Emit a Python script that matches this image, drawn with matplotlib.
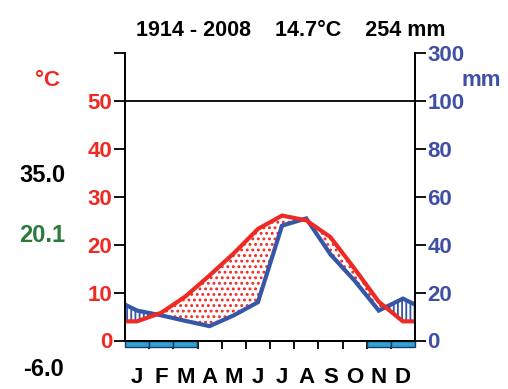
import numpy as np
import matplotlib
matplotlib.use('Agg')
import matplotlib.pyplot as plt

plt.rcParams['font.family'] = ['Liberation Sans', 'DejaVu Sans']
plt.rcParams['font.weight'] = 'bold'
plt.rcParams['hatch.linewidth'] = 1.3

# climate data
months = ['J', 'F', 'M', 'A', 'M', 'J', 'J', 'A', 'S', 'O', 'N', 'D']
temp = [4.0, 5.8, 9.2, 13.6, 18.2, 23.3, 26.1, 25.1, 21.6, 15.0, 8.1, 4.0]
precip = [12.5, 10.5, 8.2, 6.0, 10.5, 16.0, 48.0, 51.0, 36.0, 25.0, 12.5, 17.5]
frost_months = [0, 1, 2, 10, 11]

period = '1914 - 2008'
mean_temp = '14.7°C'
total_precip = '254 mm'
abs_max = '35.0'
max_warm = '20.1'
abs_min = '-6.0'

mm_ticks = [0, 20, 40, 60, 80, 100, 300]
c_ticks = [0, 10, 20, 30, 40, 50]

RED = '#ee2a24'
BLUE = '#3656a8'
LBLUE = '#3f4fa6'
FROST = '#2ea3d6'
GREEN = '#2a7a3c'

W, H = 508, 389


def mm_to_scale(v):
    v = np.asarray(v, dtype=float)
    return np.where(v <= 100, v / 2, 50 + (v - 100) / 20)


def main():
    fig = plt.figure(figsize=(W / 100, H / 100), dpi=100)
    fig.patch.set_facecolor('white')
    ax = fig.add_axes([125 / W, 48.5 / H, 290 / W, 287.2 / H])

    # month midpoints, closed with Dec/Jan average at both edges
    x = np.concatenate([[0], np.arange(12) + 0.5, [12]])
    t_edge = (temp[0] + temp[-1]) / 2
    p_edge = (precip[0] + precip[-1]) / 2
    t = np.concatenate([[t_edge], temp, [t_edge]])
    p = mm_to_scale(np.concatenate([[p_edge], precip, [p_edge]]))

    # arid and humid periods
    ax.fill_between(x, t, p, where=t >= p, interpolate=True, facecolor='none',
                    edgecolor=RED, hatch='...', linewidth=0)
    ax.fill_between(x, t, p, where=p >= t, interpolate=True, facecolor='none',
                    edgecolor=BLUE, hatch='||||', linewidth=0)

    ax.plot(x, p, color=BLUE, lw=3, solid_joinstyle='miter')
    ax.plot(x, t, color=RED, lw=3, solid_joinstyle='miter')
    ax.axhline(50, color='black', lw=1.3)

    # frost months bars below the axis
    ax.bar(np.array(frost_months) + 0.5, -1.35, width=1, bottom=0,
           color=FROST, edgecolor='#1c3a5a', linewidth=1, clip_on=False, zorder=3)

    ax.set_xlim(0, 12)
    ax.set_ylim(0, 60)
    ax.set_xticks(range(1, 12))
    ax.set_xticklabels([])
    ax.tick_params(axis='x', direction='out', length=6, width=1.3)

    ax.set_yticks(c_ticks + [60])
    ax.set_yticklabels([str(c) for c in c_ticks] + [''])
    ax.tick_params(axis='y', direction='out', length=8, width=1.3, pad=1,
                   labelsize=16, labelcolor=RED)

    ax2 = ax.twinx()
    ax2.set_ylim(0, 60)
    ax2.set_yticks(mm_to_scale(mm_ticks))
    ax2.set_yticklabels([str(m) for m in mm_ticks])
    ax2.tick_params(axis='y', direction='out', length=8, width=1.3, pad=1,
                    labelsize=16, labelcolor=LBLUE)

    for a in (ax, ax2):
        a.spines['top'].set_visible(False)
        for s in ('left', 'right', 'bottom'):
            a.spines[s].set_linewidth(1.3)

    for i, m in enumerate(months):
        ax.text(i + 0.5, -7.7, m, ha='center', va='center', fontsize=16,
                fontweight='bold', color='black')

    def ftext(px, py, s, **kw):
        fig.text(px / W, 1 - py / H, s, ha='center', va='center',
                 fontweight='bold', **kw)

    ftext(291, 31, period + '    ' + mean_temp + '    ' + total_precip, fontsize=15.5)
    ftext(47, 80, '°C', fontsize=16, color=RED)
    ftext(481, 80, 'mm', fontsize=16, color=LBLUE)
    ftext(42, 175, abs_max, fontsize=17, color='black')
    ftext(42, 236, max_warm, fontsize=17, color=GREEN)
    ftext(43, 369, abs_min, fontsize=17, color='black')

    fig.savefig('out.png', dpi=100, facecolor='white')


if __name__ == '__main__':
    main()
